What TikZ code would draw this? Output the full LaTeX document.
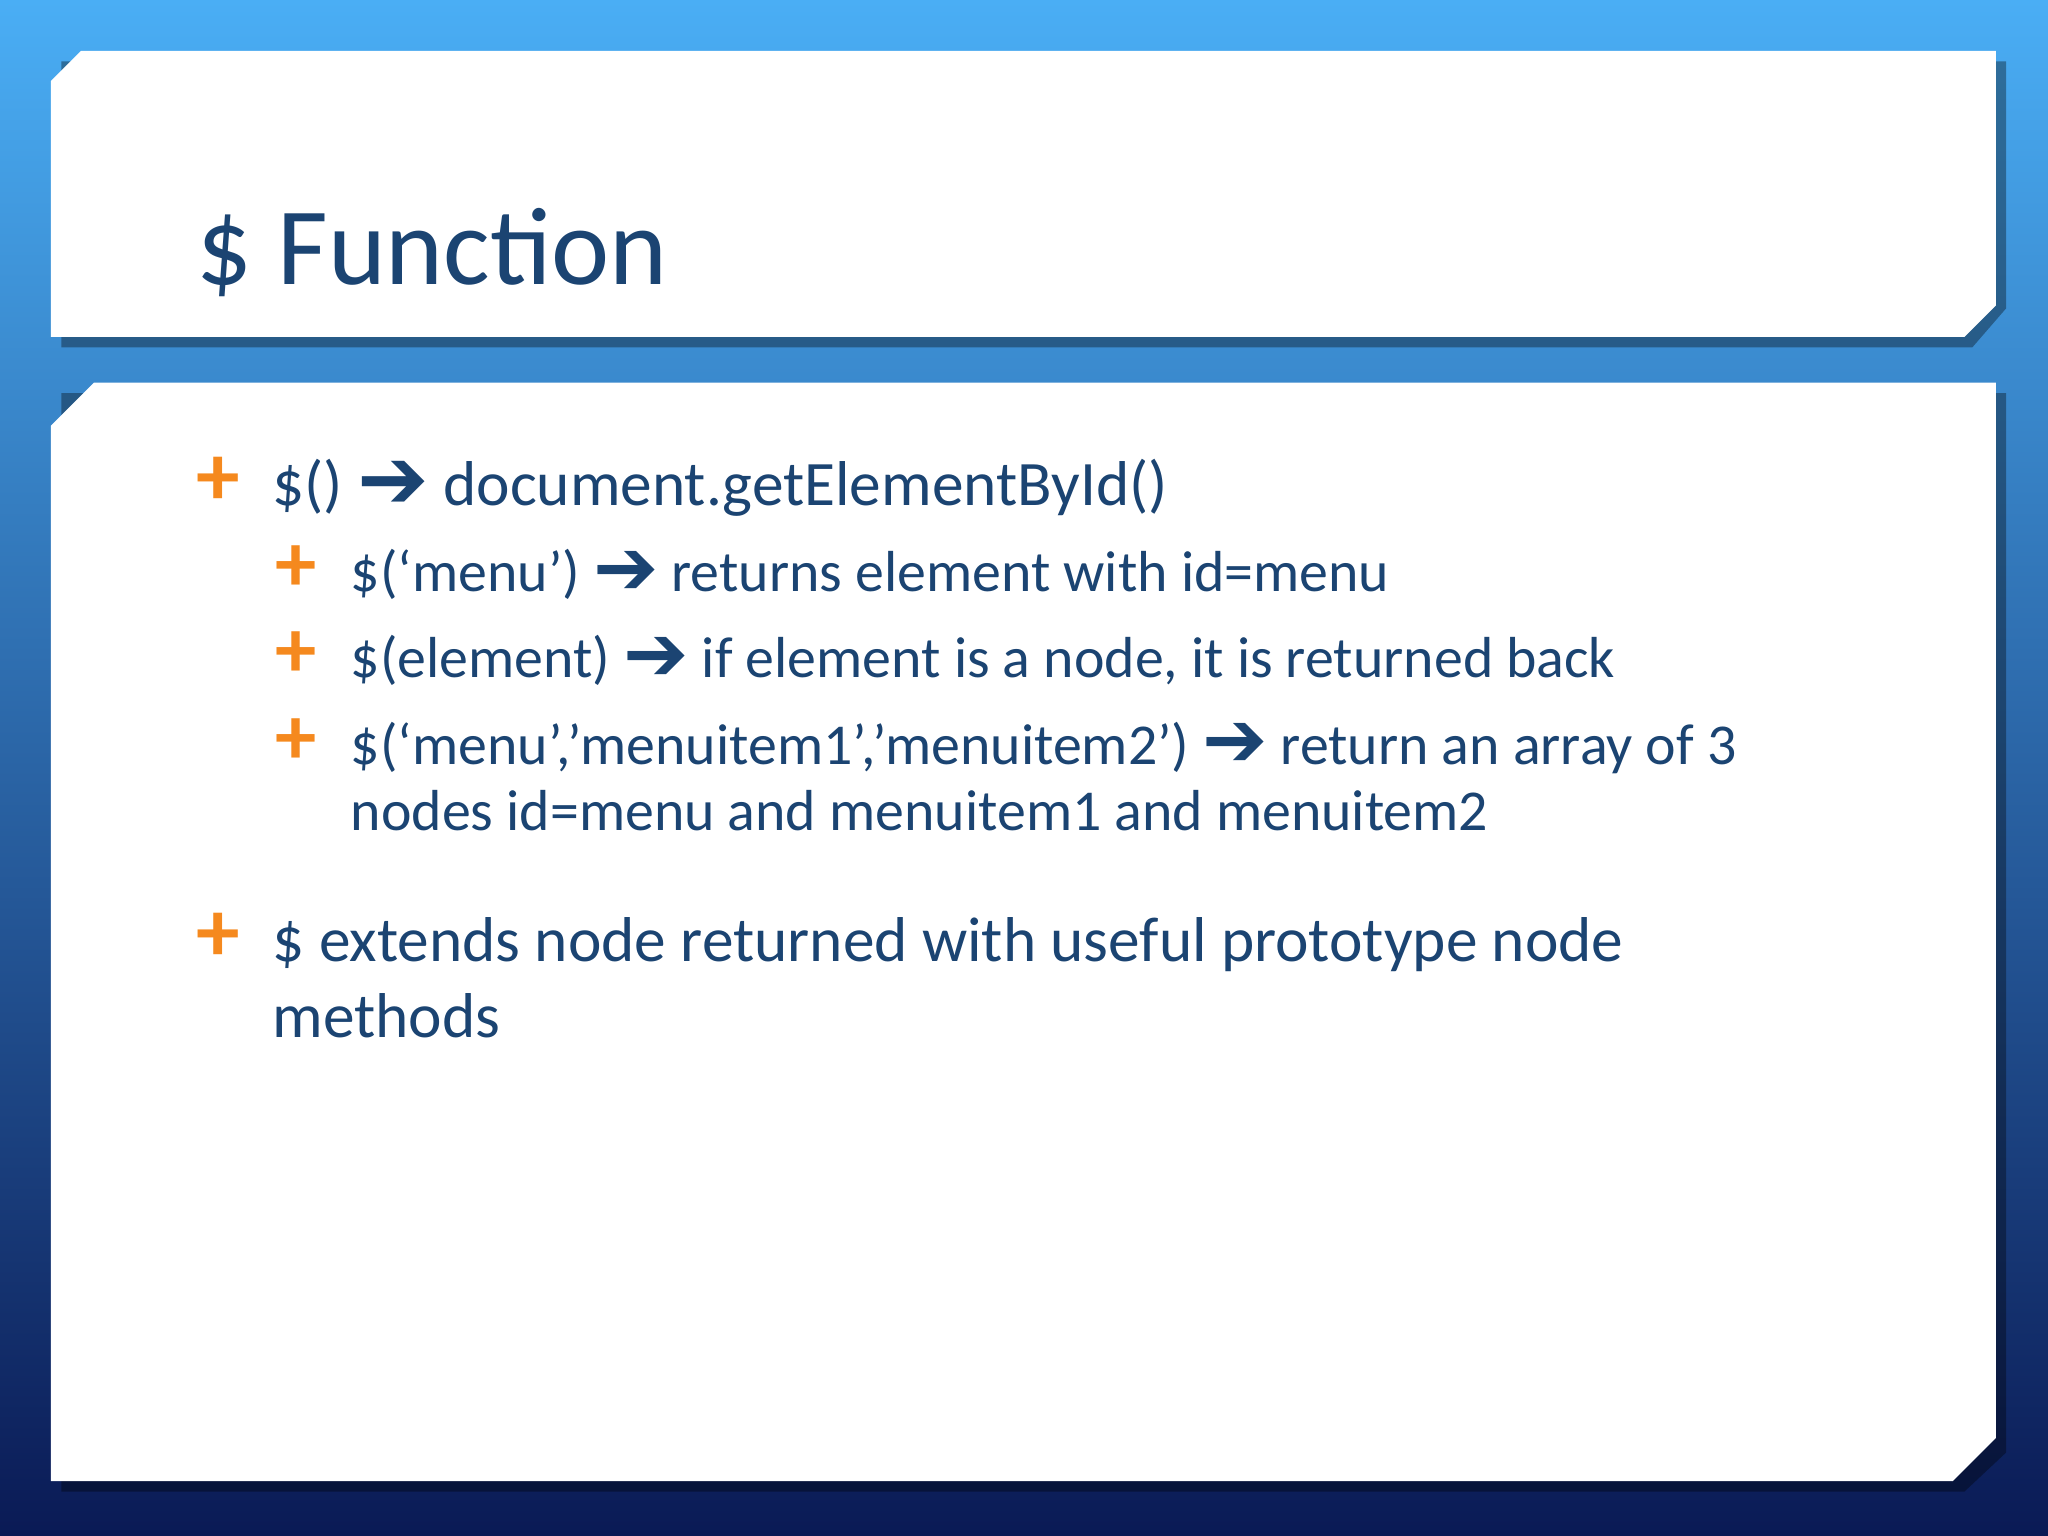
\documentclass[tikz,border=0pt]{standalone}
\usepackage{fontspec}
\setmainfont{Carlito}
\newfontfamily\symf{DejaVu Sans}
\definecolor{txt}{HTML}{1B4472}
\definecolor{plusc}{HTML}{F5891E}
\definecolor{bgtop}{HTML}{4AAEF5}
\definecolor{bgbot}{HTML}{0A1A55}
\begin{document}
\begin{tikzpicture}[x=0.1mm,y=-0.1mm,
  lvla/.style={anchor=base west,text=txt,font=\fontsize{13.8}{17}\selectfont,inner sep=0},
  lvlb/.style={anchor=base west,text=txt,font=\fontsize{12.6}{15}\selectfont,inner sep=0},
  plusa/.style={anchor=base west,text=plusc,font=\fontsize{19}{18}\selectfont\bfseries,inner sep=0},
  plusb/.style={anchor=base west,text=plusc,font=\fontsize{18}{16}\selectfont\bfseries,inner sep=0}]
\newcommand{\arr}{\raisebox{-0.05em}{\scalebox{1.35}{\symf\textbf{➔}}}}
\shade[top color=bgtop,bottom color=bgbot] (0,0) rectangle (1568,1176);
\useasboundingbox (0,0) rectangle (1568,1176);
% shadows
\fill[black,opacity=0.35] (47,47)--(1536,47)--(1536,236)--(1510,266)--(47,266)--cycle;
\fill[black,opacity=0.35] (47,301)--(1536,301)--(1536,1112)--(1504,1142)--(47,1142)--cycle;
% boxes
\fill[white] (62,39)--(1528,39)--(1528,234)--(1504,258)--(39,258)--(39,62)--cycle;
\fill[white] (72,293)--(1528,293)--(1528,1101)--(1495,1134)--(39,1134)--(39,326)--cycle;
\node[anchor=base west,text=txt,font=\fontsize{24}{28}\selectfont,inner sep=0] (title) at (150,218) {\$ Function};
\node[plusa] (p1) at (150,387) {+};
\node[lvla] (t1) at (208,387) {\$() \arr\ document.getElementById()};
\node[plusb] (p2) at (210,453) {+};
\node[lvlb] (t2) at (268,453) {\$(‘menu’) \arr\ returns element with id=menu};
\node[plusb] (p3) at (210,519) {+};
\node[lvlb] (t3) at (268,519) {\$(element) \arr\ if element is a node, it is returned back};
\node[plusb] (p4) at (210,585) {+};
\node[lvlb] (t4) at (268,585) {\$(‘menu’,’menuitem1’,’menuitem2’) \arr\ return an array of 3};
\node[lvlb] (t4b) at (268,636) {nodes id=menu and menuitem1 and menuitem2};
\node[plusa] (p5) at (150,736) {+};
\node[lvla] (t5) at (208,736) {\$ extends node returned with useful prototype node};
\node[lvla] (t5b) at (208,794) {methods};
\end{tikzpicture}
\end{document}
